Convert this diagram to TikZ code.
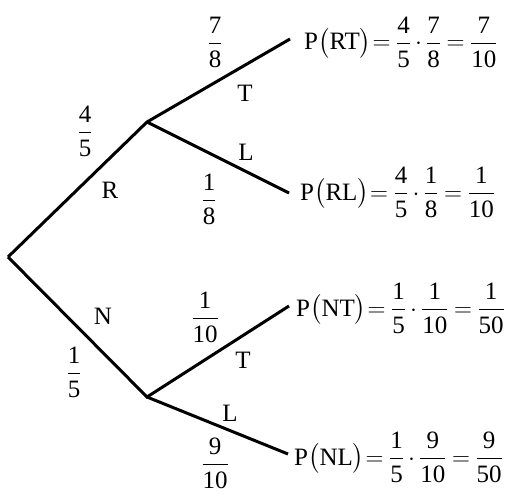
\documentclass[tikz,border=0pt]{standalone}
\usepackage{amsmath}
\usepackage{fontspec}
\setmainfont{Liberation Serif}
\usetikzlibrary{positioning}
\newcommand{\fr}[2]{\dfrac{\text{#1}}{\text{#2}}}

\begin{document}
\begin{tikzpicture}[
  x=1pt, y=-1pt,
  font=\fontsize{25}{30}\selectfont,
  br/.style ={line width=3pt, line join=miter},
  lab/.style={inner sep=0pt},
  eq/.style ={inner sep=0pt, anchor=west,
              execute at begin node={\thickmuskip=4mu\medmuskip=3mu}}
]
\useasboundingbox (0,0) rectangle (517,493);
% tree points
\coordinate (o)  at (8,257);
\coordinate (r)  at (147,122);
\coordinate (n)  at (147,397);
\coordinate (rt) at (290,39);
\coordinate (rl) at (289,193);
\coordinate (nt) at (289,306);
\coordinate (nl) at (288,454);

\draw[br] (o) -- (r) -- (rt);
\draw[br] (r) -- (rl);
\draw[br] (o) -- (n) -- (nt);
\draw[br] (n) -- (nl);

% branch labels
\node[lab] (pr)  at (85,131)  {$\fr{4}{5}$};
\node[lab] (lr)  at (110,190) {R};
\node[lab] (pn)  at (74,372)  {$\fr{1}{5}$};
\node[lab] (ln)  at (103,316) {N};
\node[lab] (prt) at (215,42)  {$\fr{7}{8}$};
\node[lab] (lrt) at (245,93)  {T};
\node[lab] (prl) at (209,199) {$\fr{1}{8}$};
\node[lab] (lrl) at (246,152) {L};
\node[lab] (pnt) at (205,317) {$\fr{1}{10}$};
\node[lab] (lnt) at (243,360) {T};
\node[lab] (pnl) at (215,463) {$\fr{9}{10}$};
\node[lab] (lnl) at (230,413) {L};

% results
\node[eq] (ert) at (304,42)  {$\text{P}\big(\text{RT}\big)\mkern-3mu=\fr{4}{5}\cdot\fr{7}{8}=\fr{7}{10}$};
\node[eq] (erl) at (300,192) {$\text{P}\big(\text{RL}\big)\mkern-3mu=\fr{4}{5}\cdot\fr{1}{8}=\fr{1}{10}$};
\node[eq] (ent) at (296,308) {$\text{P}\big(\text{NT}\big)\mkern-3mu=\fr{1}{5}\cdot\fr{1}{10}=\fr{1}{50}$};
\node[eq] (enl) at (294,457) {$\text{P}\big(\text{NL}\big)\mkern-3mu=\fr{1}{5}\cdot\fr{9}{10}=\fr{9}{50}$};
\end{tikzpicture}
\end{document}
